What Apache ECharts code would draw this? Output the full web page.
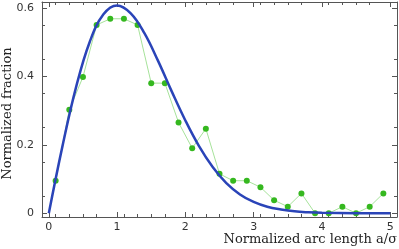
<!DOCTYPE html>
<html><head><meta charset="utf-8">
<script src="https://cdn.jsdelivr.net/npm/echarts@6/dist/echarts.min.js"></script>
<style>html,body{margin:0;padding:0;background:#fff}#c{width:399px;height:249px}</style>
</head><body><div id="c"></div>
<script>
// Measured histogram (green)
const histX = [0.1,0.3,0.5,0.7,0.9,1.1,1.3,1.5,1.7,1.9,2.1,2.3,2.5,2.7,2.9,3.1,3.3,3.5,3.7,3.9,4.1,4.3,4.5,4.7,4.9];
const histY = [0.095,0.302,0.398,0.55,0.568,0.568,0.55,0.38,0.38,0.265,0.19,0.247,0.115,0.095,0.095,0.076,0.038,0.019,0.058,0,0,0.019,0,0.019,0.058];
// Fitted curve (blue)
const curveX = [0,0.2,0.4,0.6,0.8,1.0,1.2,1.4,1.6,1.8,2.0,2.2,2.4,2.6,2.8,3.0,3.2,3.4,3.6,3.8,4.0,4.5,5.0];
const curveY = [0,0.196,0.369,0.501,0.581,0.607,0.584,0.526,0.445,0.356,0.271,0.196,0.135,0.088,0.055,0.033,0.019,0.011,0.0055,0.0028,0.0013,0.0002,0];
const xTicks = [0,1,2,3,4,5];
const yTicks = [0,0.2,0.4,0.6];

const chart = echarts.init(document.getElementById('c'), null, {renderer:'canvas'});
const axisCol = '#555';
const labFont = {fontFamily:'DejaVu Sans', fontSize:11, color:'#333'};
function xAx(pos, show){
  return {type:'value', position:pos, min:-0.1, max:5.1, interval:1,
    axisLine:{show:true,onZero:false,lineStyle:{color:axisCol,width:1}},
    axisTick:{show:true,inside:true,length:5,lineStyle:{color:axisCol}, customValues:xTicks},
    minorTick:{show:true,splitNumber:5,length:3,lineStyle:{color:axisCol}},
    axisLabel:Object.assign({show:show, margin:5, customValues:xTicks}, labFont),
    splitLine:{show:false},
    name: show ? 'Normalized arc length a/σ' : '', nameLocation:'end', nameGap:0, nameMoveOverlap:false,
    nameTextStyle:{fontFamily:'DejaVu Serif', fontSize:13, color:'#222', align:'right', verticalAlign:'top', padding:[16,0,0,0]}
  };
}
function yAx(pos, show){
  return {type:'value', position:pos, min:-0.011, max:0.617,
    axisLine:{show:true,onZero:false,lineStyle:{color:axisCol,width:1}},
    axisTick:{show:true,inside:true,length:5,lineStyle:{color:axisCol}, customValues:yTicks},
    minorTick:{show:true,splitNumber:2,length:3,lineStyle:{color:axisCol}},
    axisLabel:Object.assign({show:show, margin:8, customValues:yTicks, formatter:v=>String(+v.toFixed(1))}, labFont),
    splitLine:{show:false},
    name: show ? 'Normalized fraction' : '', nameLocation:'middle', nameGap:28, nameMoveOverlap:false,
    nameTextStyle:{fontFamily:'DejaVu Serif', fontSize:13, color:'#222', padding:[0,0,0,-8]}
  };
}
chart.setOption({
  animation:false,
  grid:{left:42, right:2, top:2, bottom:32, containLabel:false, outerBoundsMode:'none'},
  xAxis:[xAx('bottom',true), xAx('top',false)],
  yAxis:[yAx('left',true), yAx('right',false)],
  series:[
    {type:'line', xAxisIndex:0, yAxisIndex:0, data:histX.map((x,i)=>[x,histY[i]]),
     symbol:'circle', symbolSize:6, lineStyle:{color:'#a6e29a',width:1},
     itemStyle:{color:'#35b81f'}, z:2},
    {type:'line', xAxisIndex:0, yAxisIndex:0, data:curveX.map((x,i)=>[x,curveY[i]]),
     symbol:'none', smooth:0.4, lineStyle:{color:'#2a44b8',width:2.5}, z:3}
  ]
});
</script></body></html>
